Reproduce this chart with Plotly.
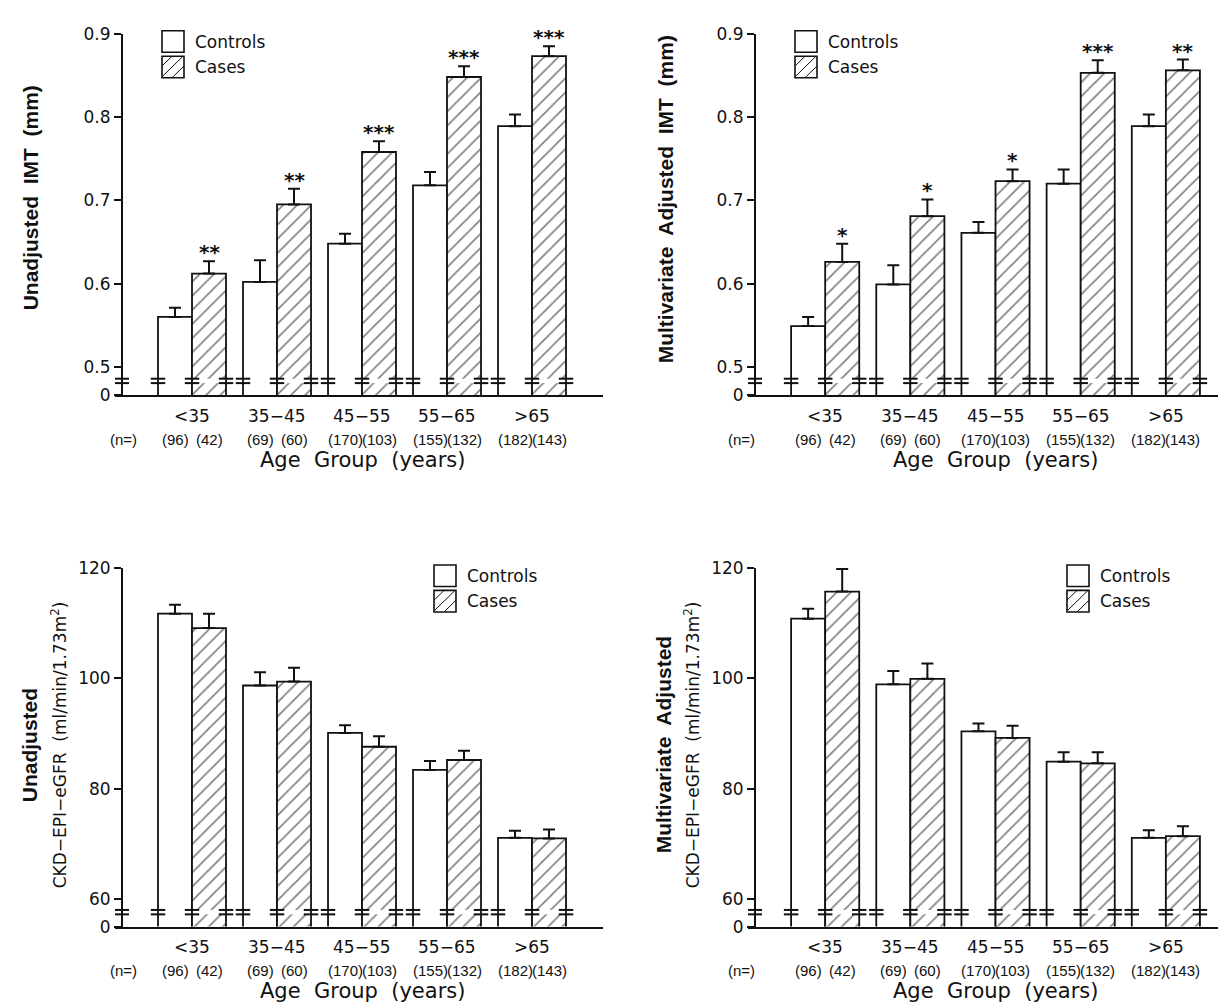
import plotly.graph_objects as go

# ---------------- data ----------------
groups = ["<35", "35\u221245", "45\u221255", "55\u221265", ">65"]
n_controls = [96, 69, 170, 155, 182]
n_cases = [42, 60, 103, 132, 143]

# Unadjusted IMT (mm)
imt_unadj_controls = [0.560, 0.602, 0.648, 0.718, 0.789]
imt_unadj_controls_se = [0.011, 0.026, 0.012, 0.016, 0.014]
imt_unadj_cases = [0.612, 0.695, 0.758, 0.848, 0.873]
imt_unadj_cases_se = [0.015, 0.019, 0.013, 0.013, 0.012]
imt_unadj_stars = ["**", "**", "***", "***", "***"]

# Multivariate adjusted IMT (mm)
imt_adj_controls = [0.549, 0.599, 0.661, 0.720, 0.789]
imt_adj_controls_se = [0.011, 0.023, 0.013, 0.017, 0.014]
imt_adj_cases = [0.626, 0.681, 0.723, 0.853, 0.856]
imt_adj_cases_se = [0.022, 0.020, 0.014, 0.015, 0.013]
imt_adj_stars = ["*", "*", "*", "***", "**"]

# Unadjusted eGFR
egfr_unadj_controls = [111.7, 98.7, 90.1, 83.4, 71.1]
egfr_unadj_controls_se = [1.6, 2.4, 1.4, 1.6, 1.3]
egfr_unadj_cases = [109.1, 99.4, 87.6, 85.2, 71.0]
egfr_unadj_cases_se = [2.6, 2.5, 1.9, 1.7, 1.6]

# Multivariate adjusted eGFR
egfr_adj_controls = [110.8, 98.9, 90.4, 84.9, 71.1]
egfr_adj_controls_se = [1.8, 2.4, 1.4, 1.7, 1.4]
egfr_adj_cases = [115.7, 99.9, 89.2, 84.6, 71.4]
egfr_adj_cases_se = [4.1, 2.8, 2.2, 2.0, 1.8]

imt_ticks = [0.5, 0.6, 0.7, 0.8, 0.9]
imt_ticktext = ["0.5", "0.6", "0.7", "0.8", "0.9"]
egfr_ticks = [60, 80, 100, 120]
egfr_ticktext = ["60", "80", "100", "120"]

# ---------------- layout helpers ----------------
W, H = 1226, 1008
def px(x):
    return x / W
def py(y):
    return 1 - y / H

INK = "#111111"
FONT = "DejaVu Sans"
TFONT = "Liberation Sans"

panels = [
    dict(ax="", ctrl=imt_unadj_controls, ctrl_se=imt_unadj_controls_se,
         case=imt_unadj_cases, case_se=imt_unadj_cases_se, stars=imt_unadj_stars,
         ticks=imt_ticks, ticktext=imt_ticktext, y0=0.5 - 29 / 850, ytop=0.9,
         top=16, bot=385, axis_x=114, xdom=(107, 595), xr=(-0.906, 4.835),
         title=["Unadjusted\u00a0 IMT\u00a0 (mm)"], title_x=[22], title_y=184,
         legend=(154, 13)),
    dict(ax="2", ctrl=imt_adj_controls, ctrl_se=imt_adj_controls_se,
         case=imt_adj_cases, case_se=imt_adj_cases_se, stars=imt_adj_stars,
         ticks=imt_ticks, ticktext=imt_ticktext, y0=0.5 - 29 / 850, ytop=0.9,
         top=16, bot=385, axis_x=747, xdom=(740, 1226), xr=(-0.906, 4.80),
         title=["Multivariate\u00a0 Adjusted\u00a0 IMT\u00a0 (mm)"], title_x=[657], title_y=185,
         legend=(787, 13)),
    dict(ax="3", ctrl=egfr_unadj_controls, ctrl_se=egfr_unadj_controls_se,
         case=egfr_unadj_cases, case_se=egfr_unadj_cases_se, stars=None,
         ticks=egfr_ticks, ticktext=egfr_ticktext, y0=60 - 28 / 5.633, ytop=120,
         top=561, bot=927, axis_x=114, xdom=(107, 595), xr=(-0.906, 4.835),
         title=["Unadjusted", "CKD\u2212EPI\u2212eGFR\u00a0 (ml/min/1.73m<sup>2</sup>)"],
         title_x=[21, 51], title_y=742, legend=(426, 558)),
    dict(ax="4", ctrl=egfr_adj_controls, ctrl_se=egfr_adj_controls_se,
         case=egfr_adj_cases, case_se=egfr_adj_cases_se, stars=None,
         ticks=egfr_ticks, ticktext=egfr_ticktext, y0=60 - 28 / 5.633, ytop=120,
         top=561, bot=927, axis_x=747, xdom=(740, 1226), xr=(-0.906, 4.80),
         title=["Multivariate\u00a0 Adjusted", "CKD\u2212EPI\u2212eGFR\u00a0 (ml/min/1.73m<sup>2</sup>)"],
         title_x=[655, 684], title_y=742, legend=(1059, 558)),
]

fig = go.Figure()
shapes = []
annotations = []
layout_axes = {}

pattern = dict(shape="/", fgcolor="#000000", bgcolor="white", size=10, solidity=0.16)

for p in panels:
    xa, ya = "x" + p["ax"], "y" + p["ax"]
    xkey, ykey = "xaxis" + p["ax"], "yaxis" + p["ax"]
    fig.add_trace(go.Bar(
        x=groups, y=p["ctrl"], xaxis=xa, yaxis=ya, name="Controls", showlegend=False,
        marker=dict(color="white", line=dict(color=INK, width=1.8)),
        error_y=dict(type="data", array=p["ctrl_se"], arrayminus=[0] * len(groups),
                     symmetric=False, color=INK, thickness=2, width=6),
    ))
    fig.add_trace(go.Bar(
        x=groups, y=p["case"], xaxis=xa, yaxis=ya, name="Cases", showlegend=False,
        marker=dict(color="white", pattern=pattern, line=dict(color=INK, width=1.8)),
        error_y=dict(type="data", array=p["case_se"], arrayminus=[0] * len(groups),
                     symmetric=False, color=INK, thickness=2, width=6),
    ))

    dom_h = p["bot"] - p["top"]
    layout_axes[xkey] = dict(
        domain=[px(p["xdom"][0]), px(p["xdom"][1])], anchor=ya, type="category",
        categoryorder="array", categoryarray=groups, range=list(p["xr"]),
        showticklabels=False, ticks="", showline=True, linewidth=2, linecolor=INK,
        showgrid=False, zeroline=False, fixedrange=True,
    )
    layout_axes[ykey] = dict(
        domain=[py(p["bot"]), py(p["top"])], anchor="free", position=px(p["axis_x"]),
        range=[p["y0"], p["ytop"]],
        tickvals=[p["y0"]] + p["ticks"], ticktext=["0"] + p["ticktext"],
        ticks="outside", ticklen=7, tickwidth=2, tickcolor=INK,
        showline=True, linewidth=2, linecolor=INK, showgrid=False, zeroline=False,
        tickfont=dict(family=FONT, size=17, color=INK), fixedrange=True,
    )

    # axis-break marks
    b_lo, b_hi = 12.5 / dom_h, 17 / dom_h
    ydom = ya + " domain"
    for i in range(len(groups)):
        shapes.append(dict(type="rect", xref=xa, yref=ydom, x0=i + 0.015, x1=i + 0.385,
                           y0=b_lo, y1=b_hi, fillcolor="white", line=dict(width=0), layer="above"))
        for edge in (i - 0.4, i, i + 0.4):
            for yy in (b_lo, b_hi):
                shapes.append(dict(type="line", xref=xa, yref=ydom, x0=edge - 0.085, x1=edge + 0.085,
                                   y0=yy, y1=yy, line=dict(color=INK, width=2), layer="above"))
    for yy in (b_lo, b_hi):
        shapes.append(dict(type="line", xref="paper", yref=ydom,
                           x0=px(p["axis_x"] - 7), x1=px(p["axis_x"] + 7),
                           y0=yy, y1=yy, line=dict(color=INK, width=2), layer="above"))

    # category labels, n labels
    for i, g in enumerate(groups):
        annotations.append(dict(xref=xa, yref="paper", x=i, y=py(p["bot"] + 21), text=g,
                                showarrow=False, yanchor="middle",
                                font=dict(family=FONT, size=17, color=INK)))
        annotations.append(dict(xref=xa, yref="paper", x=i - 0.2, y=py(p["bot"] + 45),
                                text="(%d)" % n_controls[i], showarrow=False, yanchor="middle",
                                font=dict(family=TFONT, size=15, color=INK)))
        annotations.append(dict(xref=xa, yref="paper", x=i + 0.2, y=py(p["bot"] + 45),
                                text="(%d)" % n_cases[i], showarrow=False, yanchor="middle",
                                font=dict(family=TFONT, size=15, color=INK)))
    annotations.append(dict(xref="paper", yref="paper", x=px(p["axis_x"] - 14), y=py(p["bot"] + 45),
                            text="(n=)", showarrow=False, yanchor="middle",
                            font=dict(family=TFONT, size=15, color=INK)))
    annotations.append(dict(xref=xa, yref="paper", x=2, y=py(p["bot"] + 66),
                            text="Age\u00a0 Group\u00a0 (years)", showarrow=False, yanchor="middle",
                            font=dict(family=FONT, size=21, color=INK)))

    # significance stars
    if p["stars"]:
        for i, s in enumerate(p["stars"]):
            annotations.append(dict(xref=xa, yref=ya, x=i + 0.2, y=p["case"][i] + p["case_se"][i],
                                    text=s, showarrow=False, yanchor="bottom", yshift=-5,
                                    font=dict(family="DejaVu Sans", size=20, color=INK, weight="bold")))

    # y titles
    for k, t in enumerate(p["title"]):
        big = (k == 0)
        annotations.append(dict(xref="paper", yref="paper", x=px(p["title_x"][k]), y=py(p["title_y"]),
                                text=t, showarrow=False, textangle=-90, xanchor="center", yanchor="middle",
                                font=dict(family=TFONT if big else FONT, size=21 if big else 17,
                                          color=INK, weight="bold" if big else "normal")))

    # legend
    L, T = p["legend"]
    for j, lab in enumerate(["Controls", "Cases"]):
        top = T + j * 26
        shapes.append(dict(type="rect", xref="paper", yref="paper", x0=px(L), x1=px(L + 22),
                           y0=py(top + 22), y1=py(top), fillcolor="white",
                           line=dict(color=INK, width=1.6)))
        if j == 1:
            for c in (10, 21, 32):
                xa0, ya0 = max(0, c - 22), min(22, c)
                xa1, ya1 = min(22, c), max(0, c - 22)
                shapes.append(dict(type="line", xref="paper", yref="paper",
                                   x0=px(L + xa0), y0=py(top + ya0), x1=px(L + xa1), y1=py(top + ya1),
                                   line=dict(color=INK, width=1)))
        annotations.append(dict(xref="paper", yref="paper", x=px(L + 31), y=py(top + 11), text=lab,
                                showarrow=False, xanchor="left", yanchor="middle",
                                font=dict(family=FONT, size=17, color=INK)))

fig.update_layout(
    width=W, height=H, autosize=False,
    margin=dict(l=0, r=0, t=0, b=0),
    paper_bgcolor="white", plot_bgcolor="white",
    barmode="group", bargap=0.2, bargroupgap=0,
    showlegend=False,
    shapes=shapes, annotations=annotations,
    **layout_axes,
)

fig.write_html("out.html")
